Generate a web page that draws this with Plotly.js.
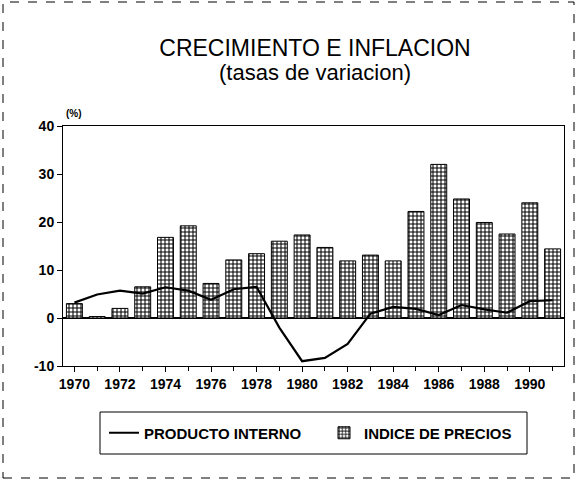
<!DOCTYPE html>
<html>
<head>
<meta charset="utf-8">
<script src="https://cdn.plot.ly/plotly-3.0.1.min.js"></script>
<style>
  html, body { margin: 0; padding: 0; background: #ffffff; }
  #chart { width: 577px; height: 480px; }
</style>
</head>
<body>
<div id="chart"></div>
<script>
// Years
const years = [1970, 1971, 1972, 1973, 1974, 1975, 1976, 1977, 1978, 1979, 1980,
               1981, 1982, 1983, 1984, 1985, 1986, 1987, 1988, 1989, 1990, 1991];
// INDICE DE PRECIOS (bars, %)
const indicePrecios = [3.0, 0.3, 2.0, 6.5, 16.8, 19.2, 7.2, 12.1, 13.4, 16.0, 17.3,
                       14.7, 11.9, 13.1, 11.9, 22.2, 32.0, 24.8, 19.9, 17.5, 24.0, 14.4];
// PRODUCTO INTERNO (line, %)
const productoInterno = [3.2, 4.9, 5.7, 5.1, 6.4, 5.7, 3.8, 6.0, 6.5, -2.0, -9.0,
                         -8.3, -5.4, 0.9, 2.3, 1.9, 0.6, 2.7, 1.8, 1.1, 3.5, 3.7];
// Axis ticks
const yTicks = [-10, 0, 10, 20, 30, 40];
const xTickYears = [1970, 1972, 1974, 1976, 1978, 1980, 1982, 1984, 1986, 1988, 1990];

const FONT = '"Liberation Sans", Arial, Helvetica, sans-serif';

const traces = [
  {
    type: 'scatter',
    mode: 'lines',
    name: 'PRODUCTO INTERNO',
    x: years,
    y: productoInterno,
    line: { color: '#000000', width: 2.2 },
    hoverinfo: 'skip'
  },
  {
    type: 'bar',
    name: 'INDICE DE PRECIOS',
    x: years,
    y: indicePrecios,
    width: 0.7,
    marker: {
      color: '#ffffff',
      line: { color: '#000000', width: 1 },
      pattern: { shape: '+', fgcolor: '#000000', bgcolor: '#ffffff', size: 4, solidity: 0.45 }
    },
    hoverinfo: 'skip'
  }
];

const plotL = 63, plotR = 564, plotT = 126, plotB = 366;
const pw = plotR - plotL, ph = plotB - plotT;
function px(xp) { return (xp - plotL) / pw; }
function py(yp) { return (plotB - yp) / ph; }

const layout = {
  width: 577,
  height: 480,
  margin: { l: plotL, r: 577 - plotR, t: plotT, b: 480 - plotB, pad: 0 },
  paper_bgcolor: '#ffffff',
  plot_bgcolor: '#ffffff',
  font: { family: FONT, color: '#000000' },
  showlegend: true,
  barmode: 'overlay',
  title: {
    text: 'CRECIMIENTO E INFLACION',
    font: { family: FONT, size: 23, color: '#000000' },
    xref: 'paper', x: px(315), xanchor: 'center',
    yref: 'container', y: 1 - 48 / 480, yanchor: 'middle'
  },
  xaxis: {
    range: [1969.5, 1991.5],
    tickmode: 'array',
    tickvals: xTickYears,
    ticktext: xTickYears.map(String),
    ticks: 'outside',
    ticklen: 5,
    tickwidth: 1,
    tickcolor: '#000000',
    minor: { tickmode: 'linear', tick0: 1971, dtick: 2, ticks: 'outside', ticklen: 4, tickwidth: 1, tickcolor: '#000000', showgrid: false },
    tickfont: { family: FONT, size: 14, color: '#000000', weight: 'bold' },
    showline: true, linecolor: '#000000', linewidth: 1,
    mirror: true,
    showgrid: false, zeroline: false,
    fixedrange: true
  },
  xaxis2: {
    overlaying: 'x',
    anchor: 'y',
    side: 'bottom',
    range: [1969.5, 1991.5],
    tickmode: 'array',
    tickvals: xTickYears,
    ticks: 'inside',
    ticklen: 5,
    tickwidth: 1,
    tickcolor: '#000000',
    showticklabels: false,
    showline: false,
    showgrid: false, zeroline: false
  },
  yaxis: {
    range: [-10, 40],
    tickmode: 'array',
    tickvals: yTicks,
    ticktext: yTicks.map(v => v < 0 ? '-' + Math.abs(v) : String(v)),
    ticks: 'outside',
    ticklen: 5,
    tickwidth: 1,
    tickcolor: '#000000',
    tickfont: { family: FONT, size: 14, color: '#000000', weight: 'bold' },
    showline: true, linecolor: '#000000', linewidth: 1,
    mirror: true,
    showgrid: false,
    zeroline: true, zerolinecolor: '#000000', zerolinewidth: 1.5,
    fixedrange: true
  },
  legend: {
    orientation: 'h',
    xref: 'paper', x: px(104), xanchor: 'left',
    yref: 'paper', y: py(433), yanchor: 'middle',
    borderwidth: 0,
    bgcolor: 'rgba(0,0,0,0)',
    font: { family: FONT, size: 15, color: '#000000', weight: 'bold' },
    traceorder: 'normal',
    itemwidth: 30,
    entrywidth: 175
  },
  annotations: [
    {
      text: '(tasas de variacion)', xref: 'paper', yref: 'paper',
      x: px(315), y: py(73), xanchor: 'center', yanchor: 'middle',
      showarrow: false,
      font: { family: FONT, size: 22, color: '#000000' }
    },
    {
      text: '(%)', xref: 'paper', yref: 'paper',
      x: px(74), y: py(113), xanchor: 'center', yanchor: 'middle',
      showarrow: false,
      font: { family: FONT, size: 10, color: '#000000', weight: 'bold' }
    }
  ],
  shapes: [
    {
      type: 'rect', xref: 'paper', yref: 'paper',
      x0: px(3), x1: px(574), y0: py(478), y1: py(2),
      line: { color: '#000000', width: 1, dash: 'dash' },
      fillcolor: 'rgba(0,0,0,0)',
      layer: 'below'
    },
    {
      type: 'rect', xref: 'paper', yref: 'paper',
      x0: px(100), x1: px(527), y0: py(454), y1: py(412),
      line: { color: '#000000', width: 1 },
      fillcolor: 'rgba(0,0,0,0)',
      layer: 'below'
    }
  ]
};

Plotly.newPlot('chart', traces, layout, { displayModeBar: false, staticPlot: true });
</script>
</body>
</html>
